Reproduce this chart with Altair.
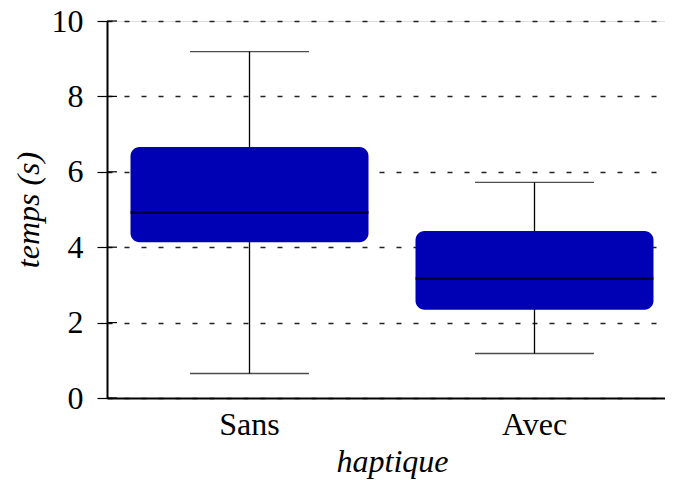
import altair as alt
import pandas as pd

categories = ["Sans", "Avec"]
whisker_low = [0.65, 1.18]
q1 = [4.13, 2.34]
median = [4.92, 3.17]
q3 = [6.66, 4.43]
whisker_high = [9.19, 5.72]
y_ticks = [0, 2, 4, 6, 8, 10]

df = pd.DataFrame({
    "haptique": categories,
    "low": whisker_low,
    "q1": q1,
    "med": median,
    "q3": q3,
    "high": whisker_high,
})
ticks_df = pd.DataFrame({"t": y_ticks})

FONT = "Liberation Serif"
FS = 32

x_enc = alt.X(
    "haptique:N",
    sort=categories,
    scale=alt.Scale(paddingInner=0, paddingOuter=0, range=[0, 570]),
    axis=alt.Axis(
        title="haptique", labelAngle=0, ticks=False, grid=False,
        domainColor="black", domainWidth=2, labelPadding=11,
        labelFont=FONT, labelFontSize=FS, labelColor="black",
        titleFont=FONT, titleFontSize=FS, titleFontStyle="italic",
        titleFontWeight="normal", titleColor="black", titlePadding=6,
    ),
)
y_scale = alt.Scale(domain=[0, 10], nice=False)
y_axis = alt.Axis(
    title="temps (s)", values=y_ticks, tickSize=10, tickColor="black",
    tickWidth=1.2, domainColor="black", domainWidth=2,
    grid=True, gridColor="#222222", gridDash=[5, 12], gridWidth=1.3,
    labelFont=FONT, labelFontSize=FS, labelColor="black", labelPadding=14,
    titleFont=FONT, titleFontSize=FS, titleFontStyle="italic",
    titleFontWeight="normal", titleColor="black", titlePadding=6,
)

base = alt.Chart(df)

whiskers = base.mark_rule(color="black", strokeWidth=1.3).encode(
    x=x_enc,
    y=alt.Y("low:Q", scale=y_scale, axis=y_axis),
    y2="high:Q",
)
cap_low = base.mark_tick(color="black", size=119, thickness=1.3).encode(
    x=x_enc, y=alt.Y("low:Q", scale=y_scale)
)
cap_high = base.mark_tick(color="black", size=119, thickness=1.3).encode(
    x=x_enc, y=alt.Y("high:Q", scale=y_scale)
)
boxes = base.mark_bar(color="#0000b4", size=238, cornerRadius=9).encode(
    x=x_enc, y=alt.Y("q1:Q", scale=y_scale), y2="q3:Q"
)
med = base.mark_tick(color="black", size=238, thickness=3).encode(
    x=x_enc, y=alt.Y("med:Q", scale=y_scale)
)
inner_ticks = alt.Chart(ticks_df).mark_rule(color="black", strokeWidth=1.2).encode(
    y=alt.Y("t:Q", scale=y_scale),
    x=alt.value(0),
    x2=alt.value(10),
)

chart = alt.layer(whiskers, cap_low, cap_high, boxes, med, inner_ticks).properties(
    width=558,
    height=377,
    autosize=alt.AutoSizeParams(type="none"),
    padding={"left": 99, "top": 13, "right": 0, "bottom": 82},
).configure_view(stroke=None).configure(background="white")

chart.save("out.html", embed_options={"renderer": "svg", "actions": False})
